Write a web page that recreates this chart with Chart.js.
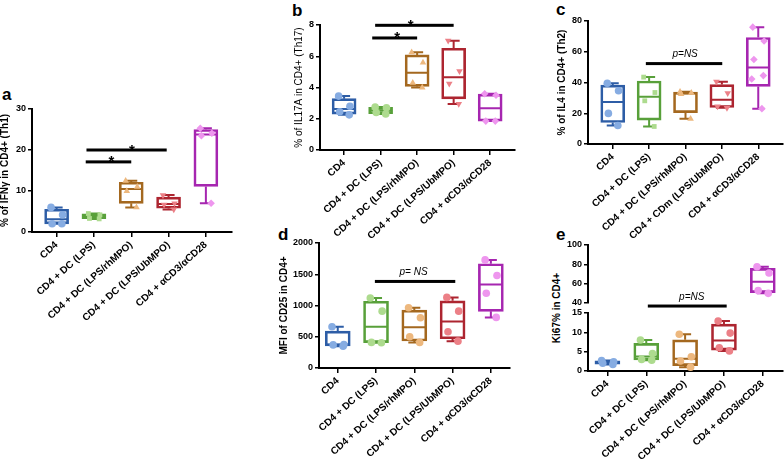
<!DOCTYPE html>
<html>
<head>
<meta charset="utf-8">
<script src="https://cdn.jsdelivr.net/npm/chart.js@4.4.1/dist/chart.umd.min.js"></script>
<style>
  body { margin: 0; background: #fff; width: 784px; height: 459px; position: relative; overflow: hidden;
         font-family: 'Liberation Sans', Arial, sans-serif; }
  canvas { position: absolute; }
  .letter { position: absolute; font-weight: bold; font-size: 17px; line-height: 1; }
  .ytitle { position: absolute; width: 160px; text-align: center; font-weight: bold; font-size: 10px;
            line-height: 12px; transform: rotate(-90deg); }
</style>
</head>
<body>
<div class="letter" style="left:2px;top:86px">a</div>
<div class="letter" style="left:292px;top:2px">b</div>
<div class="letter" style="left:556px;top:1px">c</div>
<div class="letter" style="left:278px;top:226px">d</div>
<div class="letter" style="left:556px;top:226px">e</div>
<div class="ytitle" style="left:477px;top:302px">Ki67% in CD4+</div>

<script>
// group names on the x axes
const groupLabels = ['CD4', 'CD4 + DC (LPS)', 'CD4 + DC (LPS/rhMPO)', 'CD4 + DC (LPS/UbMPO)', 'CD4 + αCD3/αCD28'];
const groupLabelsC = ['CD4', 'CD4 + DC (LPS)', 'CD4 + DC (LPS/rhMPO)', 'CD4 + CDm (LPS/UbMPO)', 'CD4 + αCD3/αCD28'];

// individual values per group
const ifng  = [[6.0, 4.2, 2.0, 2.0], [4.5, 4.2, 3.3, 3.2], [12.5, 11.0, 10.0, 6.0], [9.0, 7.0, 6.7, 5.5], [25.3, 24.1, 23.5, 7.0]];
const il17a = [[3.45, 2.8, 2.45, 2.25], [2.75, 2.7, 2.4, 2.3], [6.25, 5.6, 4.3, 4.0], [7.0, 5.05, 4.25, 2.95], [3.6, 3.5, 1.85, 1.85]];
const il4   = [[39.5, 34.6, 19.9, 12.0], [43.5, 33.5, 28.1, 11.4], [34.0, 33.3, 32.5, 16.4], [40.5, 33.0, 24.5, 23.5], [76, 67, 55, 44.5, 42.3, 23]];
const cd25  = [[660, 375, 370, 350], [1120, 910, 410, 405], [965, 805, 500, 410], [1130, 910, 580, 430], [1730, 1480, 1195, 810]];
const ki67  = [[2.7, 2.4, 2.0, 1.7], [8.0, 4.5, 3.0, 2.8], [9.5, 3.7, 2.6, 1.0], [12.9, 9.8, 6.0, 5.2], [77.5, 71, 53, 50]];

// y tick values
const ifngTicks = [0, 10, 20, 30];
const il17aTicks = [0, 2, 4, 6, 8];
const il4Ticks = [0, 20, 40, 60, 80];
const cd25Ticks = [0, 500, 1000, 1500, 2000];
const ki67TopTicks = [40, 60, 80, 100];
const ki67BottomTicks = [0, 5, 10, 15];

// significance bars: from/to in group units, at = y value
const ifngSig = [{from: 0.78, to: 2.0, at: 17.1, text: '*', tx: 1.47}, {from: 0.8, to: 2.95, at: 20, text: '*', tx: 2.02}];
const il17aSig = [{from: 0.77, to: 2.0, at: 7.17, text: '*', tx: 1.45}, {from: 0.85, to: 3.0, at: 7.98, text: '*', tx: 1.82}];
const il4Sig = [{from: 0.91, to: 3.01, at: 52.3, text: 'p=NS', tx: 1.99}];
const cd25Sig = [{from: 0.97, to: 3.07, at: 1385, text: 'p= NS', tx: 1.98}];
const ki67Sig = [{from: 1.04, to: 3.07, at: 16.8, text: 'p=NS', tx: 2.17}];

Chart.defaults.font.family = "'Liberation Sans', Arial, sans-serif";
Chart.defaults.color = '#000';

const dark = ['#2D5DA6', '#58A03A', '#A4681F', '#AD2530', '#A626B0'];
const light = ['#86ACE2', '#ADDB8E', '#EDB87E', '#EC8087', '#EE96EE'];
const jitter = [-0.15, 0.16, -0.12, 0.14, -0.18, 0.1];

// quartiles the way Prism does it (n+1 method)
function quant(s, p) {
    const n = s.length, pos = p * (n + 1);
    if (pos <= 1) return s[0];
    if (pos >= n) return s[n - 1];
    const lo = Math.floor(pos);
    return s[lo - 1] + (pos - lo) * (s[lo] - s[lo - 1]);
}
function boxStats(vals) {
    const s = vals.slice().sort((a, b) => a - b);
    return {min: s[0], q1: quant(s, 0.25), med: quant(s, 0.5), q3: quant(s, 0.75), max: s[s.length - 1]};
}

function buildPanel(o) {
    const padTop = 30;
    const top = o.T - padTop;
    const xH = o.showX ? 110 : 0;
    const padBottom = o.showX ? 0 : 8;
    const W = o.R - o.left + 4;
    const H = o.B - top + xH + padBottom;
    const cv = document.createElement('canvas');
    cv.width = W; cv.height = H;
    cv.style.left = o.left + 'px'; cv.style.top = top + 'px';
    cv.style.width = W + 'px'; cv.style.height = H + 'px';
    document.body.appendChild(cv);

    const stats = o.values.map(boxStats);
    const datasets = [{
        type: 'bar',
        data: stats.map((s, i) => ({x: i, y: [s.q1, s.q3]})),
        backgroundColor: 'rgba(255,255,255,0)',
        borderColor: dark,
        borderWidth: 2,
        borderSkipped: false,
        barThickness: o.bw,
        clip: 0,
        order: 1
    }];
    o.values.forEach((vals, i) => {
        const down = o.shapes[i] === 'triangleDown';
        datasets.push({
            type: 'scatter',
            data: vals.map((v, j) => ({x: i + jitter[j], y: v})),
            pointStyle: down ? 'triangle' : o.shapes[i],
            rotation: down ? 180 : 0,
            pointRadius: o.shapes[i] === 'rect' ? 3.4 : 3.8,
            pointBackgroundColor: light[i],
            pointBorderWidth: 0,
            clip: 4,
            order: 0
        });
    });

    const boxParts = {
        id: 'boxParts',
        beforeDatasetsDraw(chart) {
            const {ctx, chartArea: a, scales: {x, y}} = chart;
            ctx.save();
            ctx.beginPath();
            ctx.rect(a.left, a.top - 1, a.width, a.height + 2);
            ctx.clip();
            ctx.lineWidth = 2;
            stats.forEach((s, i) => {
                const cx = x.getPixelForValue(i), h = o.bw / 2 - 1;
                ctx.strokeStyle = dark[i];
                ctx.beginPath();
                ctx.moveTo(cx - h, y.getPixelForValue(s.med)); ctx.lineTo(cx + h, y.getPixelForValue(s.med));
                ctx.moveTo(cx, y.getPixelForValue(s.q3)); ctx.lineTo(cx, y.getPixelForValue(s.max));
                ctx.moveTo(cx - 6, y.getPixelForValue(s.max)); ctx.lineTo(cx + 6, y.getPixelForValue(s.max));
                ctx.moveTo(cx, y.getPixelForValue(s.q1)); ctx.lineTo(cx, y.getPixelForValue(s.min));
                ctx.moveTo(cx - 6, y.getPixelForValue(s.min)); ctx.lineTo(cx + 6, y.getPixelForValue(s.min));
                ctx.stroke();
            });
            ctx.restore();
        }
    };
    const sigBars = {
        id: 'sigBars',
        afterDatasetsDraw(chart) {
            const {ctx, scales: {x, y}} = chart;
            ctx.save();
            ctx.fillStyle = '#000';
            ctx.textAlign = 'center';
            (o.sig || []).forEach(s => {
                const x0 = x.getPixelForValue(s.from), x1 = x.getPixelForValue(s.to), yy = y.getPixelForValue(s.at);
                ctx.fillRect(x0, yy - 1.5, x1 - x0, 3);
                if (s.text === '*') {
                    ctx.font = "bold 15px 'Liberation Sans', Arial";
                    ctx.textBaseline = 'alphabetic';
                    ctx.fillText('*', x.getPixelForValue(s.tx), yy + 4.5);
                } else {
                    ctx.font = "italic 10px 'Liberation Sans', Arial";
                    ctx.textBaseline = 'middle';
                    ctx.fillText(s.text, x.getPixelForValue(s.tx), yy - 9);
                }
            });
            ctx.restore();
        }
    };

    new Chart(cv, {
        type: 'scatter',
        data: {datasets},
        plugins: [boxParts, sigBars],
        options: {
            responsive: false,
            animation: false,
            events: [],
            layout: {padding: {top: padTop, right: 4, bottom: padBottom, left: 0}},
            plugins: {legend: {display: false}, tooltip: {enabled: false}},
            scales: {
                x: {
                    type: 'linear',
                    display: o.showX,
                    min: o.xmin, max: o.xmax,
                    offset: false,
                    afterBuildTicks: s => { s.ticks = o.labels.map((_, i) => ({value: i})); },
                    afterFit: s => { s.height = xH; s.paddingLeft = 0; s.paddingRight = 0; },
                    grid: {display: true, offset: false, drawOnChartArea: false, drawTicks: true, tickLength: 5, color: '#000', lineWidth: 1.5},
                    border: {display: true, color: '#000', width: 2},
                    ticks: {
                        callback: v => o.labels[v],
                        minRotation: 42, maxRotation: 42, autoSkip: false, padding: 2,
                        font: {size: 10, weight: 'bold'}, color: '#000'
                    }
                },
                y: {
                    type: 'linear',
                    min: o.ticks[0], max: o.ticks[o.ticks.length - 1],
                    afterBuildTicks: s => { s.ticks = o.ticks.map(v => ({value: v})); },
                    afterFit: s => { s.width = o.L - o.left; s.paddingTop = 0; s.paddingBottom = 0; },
                    grid: {display: true, drawOnChartArea: false, drawTicks: true, tickLength: 4, color: '#000', lineWidth: 1.5},
                    border: {display: true, color: '#000', width: 2},
                    ticks: {padding: 2, font: {size: 9, weight: 'bold'}, color: '#000', callback: v => String(v)},
                    title: {
                        display: !!o.title, text: o.title, padding: 0, color: '#000',
                        font: {size: 10, weight: o.titleWeight || 'bold'}
                    }
                }
            }
        }
    });
}

buildPanel({left: -1, L: 32, T: 109, R: 232, B: 232, xmin: -0.66, xmax: 4.7, bw: 24, showX: true,
    labels: groupLabels, values: ifng, ticks: ifngTicks, sig: ifngSig, title: '% of IFNγ in CD4+ (Th1)',
    shapes: ['circle', 'rect', 'triangle', 'triangleDown', 'rectRot']});
buildPanel({left: 293, L: 320, T: 25, R: 515, B: 150, xmin: -0.66, xmax: 4.68, bw: 24, showX: true,
    labels: groupLabels, values: il17a, ticks: il17aTicks, sig: il17aSig, title: '% of IL17A in CD4+ (Th17)', titleWeight: 'normal',
    shapes: ['circle', 'circle', 'triangle', 'triangleDown', 'rectRot']});
buildPanel({left: 556, L: 588, T: 21, R: 783, B: 144, xmin: -0.68, xmax: 4.68, bw: 24, showX: true,
    labels: groupLabelsC, values: il4, ticks: il4Ticks, sig: il4Sig, title: '% of IL4 in CD4+ (Th2)',
    shapes: ['circle', 'rect', 'triangle', 'triangleDown', 'rectRot']});
buildPanel({left: 278, L: 319, T: 243, R: 510, B: 368, xmin: -0.49, xmax: 4.5, bw: 25, showX: true,
    labels: groupLabels, values: cd25, ticks: cd25Ticks, sig: cd25Sig, title: 'MFI of CD25 in CD4+',
    shapes: ['circle', 'circle', 'circle', 'circle', 'circle']});
buildPanel({left: 553, L: 588, T: 245, R: 783, B: 303, xmin: -0.5, xmax: 4.52, bw: 25, showX: false,
    labels: groupLabels, values: ki67, ticks: ki67TopTicks, sig: [],
    shapes: ['circle', 'circle', 'circle', 'circle', 'circle']});
buildPanel({left: 553, L: 588, T: 313, R: 783, B: 371, xmin: -0.5, xmax: 4.52, bw: 25, showX: true,
    labels: groupLabels, values: ki67, ticks: ki67BottomTicks, sig: ki67Sig,
    shapes: ['circle', 'circle', 'circle', 'circle', 'circle']});
</script>
</body>
</html>
